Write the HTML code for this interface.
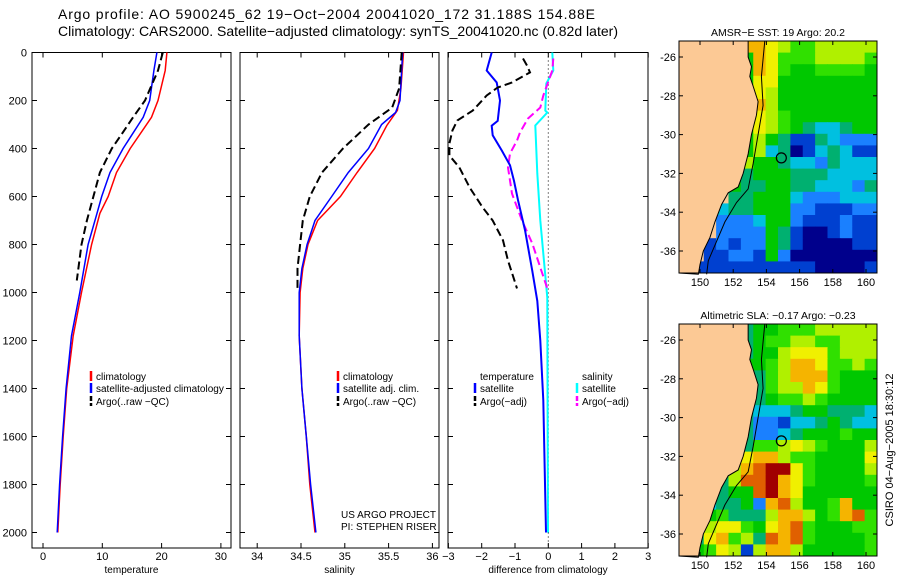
<!DOCTYPE html>
<html><head><meta charset="utf-8"><style>
body{margin:0;background:#fff;}
svg{display:block;font-family:"Liberation Sans",sans-serif;}
</style></head><body>
<svg id="c" width="900" height="580" viewBox="0 0 900 580">
<text x="58" y="19" font-size="14" textLength="537">Argo profile: AO 5900245_62 19−Oct−2004 20041020_172 31.188S 154.88E</text>
<text x="58" y="36" font-size="14" textLength="560">Climatology: CARS2000. Satellite−adjusted climatology: synTS_20041020.nc (0.82d later)</text>
<g id="g"></g>
</svg>
<script>
// ---- data ----
const tempClimDepth=[0,75,200,270,400,500,600,670,800,1000,1180,1400,1600,1800,2000];
const tempClim=[20.9,20.6,19.4,18.3,14.7,12.4,11.0,9.6,8.2,6.5,5.1,4.0,3.4,2.9,2.5];
const tempSatDepth=[0,75,200,270,400,500,600,670,800,1000,1180,1400,1600,1800,2000];
const tempSat=[19.2,18.7,18.0,16.9,13.5,11.3,9.9,9.1,7.6,6.2,4.8,3.9,3.3,2.8,2.4];
const tempArgoDepth=[0,75,200,270,350,400,500,600,700,800,950];
const tempArgo=[20.2,19.4,17.2,15.2,13.0,11.6,9.6,8.5,7.4,6.5,5.7];
const salClimDepth=[0,150,241,304,400,500,600,700,800,900,1000,1180,1400,1600,1800,2000];
const salClim=[35.67,35.64,35.60,35.48,35.34,35.14,34.95,34.69,34.58,34.52,34.49,34.48,34.51,34.56,34.60,34.66];
const salSatDepth=[0,200,250,300,400,500,600,700,800,900,1000,1180,1400,1600,1800,2000];
const salSat=[35.66,35.63,35.58,35.42,35.27,35.04,34.85,34.66,34.57,34.51,34.48,34.48,34.51,34.56,34.61,34.67];
const salArgoDepth=[0,150,230,300,400,500,600,700,800,900,990];
const salArgo=[35.65,35.62,35.54,35.27,34.98,34.74,34.60,34.52,34.49,34.46,34.46];
const dTsatDepth=[0,75,125,200,285,305,345,410,470,535,615,740,910,1035,1200,1450,2000];
const dTsat=[-1.70,-1.85,-1.55,-1.45,-1.52,-1.70,-1.67,-1.39,-1.15,-1.03,-0.91,-0.70,-0.48,-0.33,-0.24,-0.15,-0.07];
const dTargoDepth=[25,54,83,125,146,179,242,283,325,379,429,479,563,646,700,783,867,983];
const dTargo=[-0.76,-0.64,-0.55,-1.09,-1.52,-1.85,-2.27,-2.73,-2.88,-2.97,-2.97,-2.67,-2.36,-1.97,-1.67,-1.36,-1.21,-0.94];
const dSsatDepth=[0,75,129,242,250,304,504,700,1021,1500,2000];
const dSsat=[0.12,0.15,-0.06,-0.09,-0.03,-0.39,-0.33,-0.24,-0.03,-0.02,-0.01];
const dSargoDepth=[25,75,179,229,275,333,367,421,479,588,700,796,896,983];
const dSargo=[0.15,0.12,-0.15,-0.24,-0.61,-0.85,-0.94,-1.15,-1.21,-1.09,-0.79,-0.48,-0.24,-0.03];
const depthTicks=[0,200,400,600,800,1000,1200,1400,1600,1800,2000];
const tempTicks=[0,10,20,30];
const salTicks=[34,34.5,35,35.5,36];
const salTickLabels=["34","34.5","35","35.5","36"];
const diffTicks=[-3,-2,-1,0,1,2,3];
const latTicks=[-26,-28,-30,-32,-34,-36];
const lonTicks=[150,152,154,156,158,160];
const sstGrid=["LLLLL99876677777","LLLLL59866677776","LLLLL59865566665","LLLLL58855555555","LLLLL68755555555","LLLLL69755555555","LLLLL58765555555","LLLLL58765433455","LLLLL57541143222","LLLLL57340134311","LLLLL75543324333","LLLLL45554443333","LLLL544554433324","LLLL445553222333","LLL3445552211122","LLL2223552111211","LLL2222541001211","LL12122541000011","LL11221520000000","L111111111100001"];
const slaGrid=["LLLLL45566677777","LLLLL45667766777","LLLLL45578886777","LLLLL55679986676","LLLLL54679996555","LLLLL44677986555","LLLLL44566765555","LLLLL43334554443","LLLLL42213345433","LLLLL42234555655","LLLLL46678765557","LLLL789976655558","LLLL79abb8655557","LLL47aab98655556","LLL455ab98555555","LL344529a7556955","LL564447997569a6","LL7886589a655566","L489674a9a655556","L568717997555556"];
const coastLon=[152.9,152.9,153.1,153.0,153.2,153.5,153.4,153.1,152.9,152.6,152.3,151.7,151.3,150.9,150.6,150.2,150.0,149.9];
const coastLat=[-25.2,-26,-26.5,-27,-27.5,-28.3,-29,-30,-31,-32,-32.7,-33,-33.6,-34.5,-35.3,-36,-36.7,-37.2];
const contLon=[153.9,153.7,153.8,153.5,153.2,152.9,152.2,151.5,151.0,150.5,150.4];
const contLat=[-25.2,-27,-28.5,-30,-31.5,-32.8,-33.5,-34.5,-35.5,-36.5,-37.2];
const argoLon=154.9, argoLat=-31.2;

// ---- axes ----
const NS="http://www.w3.org/2000/svg";
const G=document.getElementById('g');
function el(tag,attrs,parent){const e=document.createElementNS(NS,tag);for(const k in attrs)e.setAttribute(k,attrs[k]);(parent||G).appendChild(e);return e;}
const yD=d=>52.5+d*0.24;
const xT=t=>43+5.93*t;
const xS=s=>301+87.6*(s-34.5);
const xDf=v=>548.3+33.3*v;
const TOP=52.5,BOT=548;

function panel(x0,x1,xf,xt,xlabels,title,name,ylabels){
  const g=el('g',{});
  
  
  const r=el('rect',{x:x0,y:TOP,width:x1-x0,height:BOT-TOP,fill:'none',stroke:'#000','stroke-width':1},g);
  
  
  depthTicks.forEach(d=>{
    const y=yD(d);
    el('line',{x1:x0,x2:x0+5,y1:y,y2:y,stroke:'#000'},g);
    el('line',{x1:x1-5,x2:x1,y1:y,y2:y,stroke:'#000'},g);
    if(ylabels){const t=el('text',{x:x0-5,y:y+4,'font-size':11,'text-anchor':'end'},g);t.textContent=d;
      
      }
  });
  xt.forEach((v,i)=>{
    const x=xf(v);
    el('line',{x1:x,x2:x,y1:TOP,y2:TOP+5,stroke:'#000'},g);
    el('line',{x1:x,x2:x,y1:BOT-5,y2:BOT,stroke:'#000'},g);
    const t=el('text',{x:x,y:560,'font-size':11,'text-anchor':'middle'},g);t.textContent=xlabels[i];
    
    
  });
  const tt=el('text',{x:(x0+x1)/2,y:573,'font-size':10,'text-anchor':'middle'},g);tt.textContent=title;
  
  
}
function line(depths,vals,xf,color,w,dash,name){
  const pts=depths.map((d,i)=>xf(vals[i]).toFixed(1)+','+yD(d).toFixed(1)).join(' ');
  const p=el('polyline',{points:pts,fill:'none',stroke:color,'stroke-width':w,'stroke-dasharray':dash||'none'});
  
  
}
panel(32,231,xT,tempTicks,tempTicks.map(String),'temperature','temperature-panel',true);
panel(240,439,xS,salTicks,salTickLabels,'salinity','salinity-panel',false);
panel(448,648,xDf,diffTicks,diffTicks.map(v=>v<0?'−'+(-v):String(v)),'difference from climatology','difference-panel',false);
const z=el('line',{x1:xDf(0),x2:xDf(0),y1:TOP,y2:BOT,stroke:'#000','stroke-dasharray':'1,3'});



line(tempClimDepth,tempClim,xT,'#f00',1.5,null,'temperature-climatology-line');
line(tempSatDepth,tempSat,xT,'#00f',1.5,null,'temperature-satellite-line');
line(tempArgoDepth,tempArgo,xT,'#000',2,'8,4','temperature-argo-line');
line(salClimDepth,salClim,xS,'#f00',1.5,null,'salinity-climatology-line');
line(salSatDepth,salSat,xS,'#00f',1.5,null,'salinity-satellite-line');
line(salArgoDepth,salArgo,xS,'#000',2,'8,4','salinity-argo-line');
line(dSsatDepth,dSsat,xDf,'#0ff',2,null,'salinity-satellite-diff-line');
line(dSargoDepth,dSargo,xDf,'#f0f',2,'8,4','salinity-argo-diff-line');
line(dTsatDepth,dTsat,xDf,'#00f',2,null,'temperature-satellite-diff-line');
line(dTargoDepth,dTargo,xDf,'#000',2,'8,4','temperature-argo-diff-line');

function legend(x,y,color,label,dash){
  if(color){const m=el('line',{x1:x,x2:x,y1:y-9,y2:y+1,stroke:color,'stroke-width':2.5,'stroke-dasharray':dash||'none'});
    
    }
  const t=el('text',{x:x+5,y:y,'font-size':10},G);t.textContent=label;
  
  
}
legend(91,380,'#f00','climatology');legend(91,392,'#00f','satellite-adjusted climatology');legend(91,405,'#000','Argo(..raw −QC)','5,2');
legend(338,380,'#f00','climatology');legend(338,392,'#00f','satellite adj. clim.');legend(338,405,'#000','Argo(..raw −QC)','5,2');
legend(475,380,null,'temperature');legend(475,392,'#00f','satellite');legend(475,405,'#000','Argo(−adj)','5,2');
legend(577,380,null,'salinity');legend(577,392,'#0ff','satellite');legend(577,405,'#f0f','Argo(−adj)','5,2');
[['US ARGO PROJECT',518],['PI: STEPHEN RISER',530]].forEach(a=>{const t=el('text',{x:341,y:a[1],'font-size':10});t.textContent=a[0];
  
  });

// ---- maps ----
const pal={'0':'#00008c','1':'#0040d0','2':'#1a80ff','3':'#00c0e0','4':'#00b070','5':'#00c800','6':'#30e000','7':'#b0f000','8':'#f0f000','9':'#f5b400','a':'#e06000','b':'#a00000','L':'#fcc995'};
function map(y0,grid,title,name){
  const x0=679,W=198,H=232;
  const lx=lon=>700+(lon-150)*16.6;
  const ly=lat=>(y0+16)+(-26-lat)*19.4;
  const g=el('g',{});
  
  
  const cw=W/16,ch=H/20;
  grid.forEach((row,r)=>{[...row].forEach((c,k)=>{
    el('rect',{x:x0+k*cw,y:y0+r*ch,width:cw+0.5,height:ch+0.5,fill:pal[c]},g);});});
  const cp=coastLon.map((lo,i)=>lx(lo)+','+ly(coastLat[i])).join(' ');
  const land=el('polygon',{points:cp+' '+x0+','+(y0+H)+' '+x0+','+y0+' '+lx(coastLon[0])+','+y0,fill:pal.L,stroke:'#000','stroke-width':1},g);
  
  
  const ct=el('polyline',{points:contLon.map((lo,i)=>lx(lo)+','+ly(contLat[i])).join(' '),fill:'none',stroke:'#000','stroke-width':1},g);
  
  
  const fr=el('rect',{x:x0,y:y0,width:W,height:H,fill:'none',stroke:'#000'},g);
  
  
  const ci=el('circle',{cx:lx(argoLon),cy:ly(argoLat),r:5,fill:'none',stroke:'#000','stroke-width':1.2},g);
  
  
  latTicks.forEach(l=>{const y=ly(l);el('line',{x1:x0,x2:x0+4,y1:y,y2:y,stroke:'#000'},g);el('line',{x1:x0+W-4,x2:x0+W,y1:y,y2:y,stroke:'#000'},g);
    const t=el('text',{x:x0-3,y:y+4,'font-size':11,'text-anchor':'end'},g);t.textContent=String(l);
    
    });
  lonTicks.forEach(l=>{const x=lx(l);el('line',{x1:x,x2:x,y1:y0,y2:y0+4,stroke:'#000'},g);el('line',{x1:x,x2:x,y1:y0+H-4,y2:y0+H,stroke:'#000'},g);
    const t=el('text',{x:x,y:y0+H+13,'font-size':11,'text-anchor':'middle'},g);t.textContent=String(l);
    
    });
  const tt=el('text',{x:x0+W/2,y:y0-5,'font-size':10.5,'text-anchor':'middle'},g);tt.textContent=title;
  
  
}
map(41,sstGrid,'AMSR−E SST: 19 Argo: 20.2','sst-map');
map(324,slaGrid,'Altimetric SLA: −0.17 Argo: −0.23','sla-map');
const st=el('text',{x:0,y:0,'font-size':11,'text-anchor':'middle',transform:'translate(893,450) rotate(-90)'});
st.textContent='CSIRO 04−Aug−2005 18:30:12';


</script>
</body></html>
